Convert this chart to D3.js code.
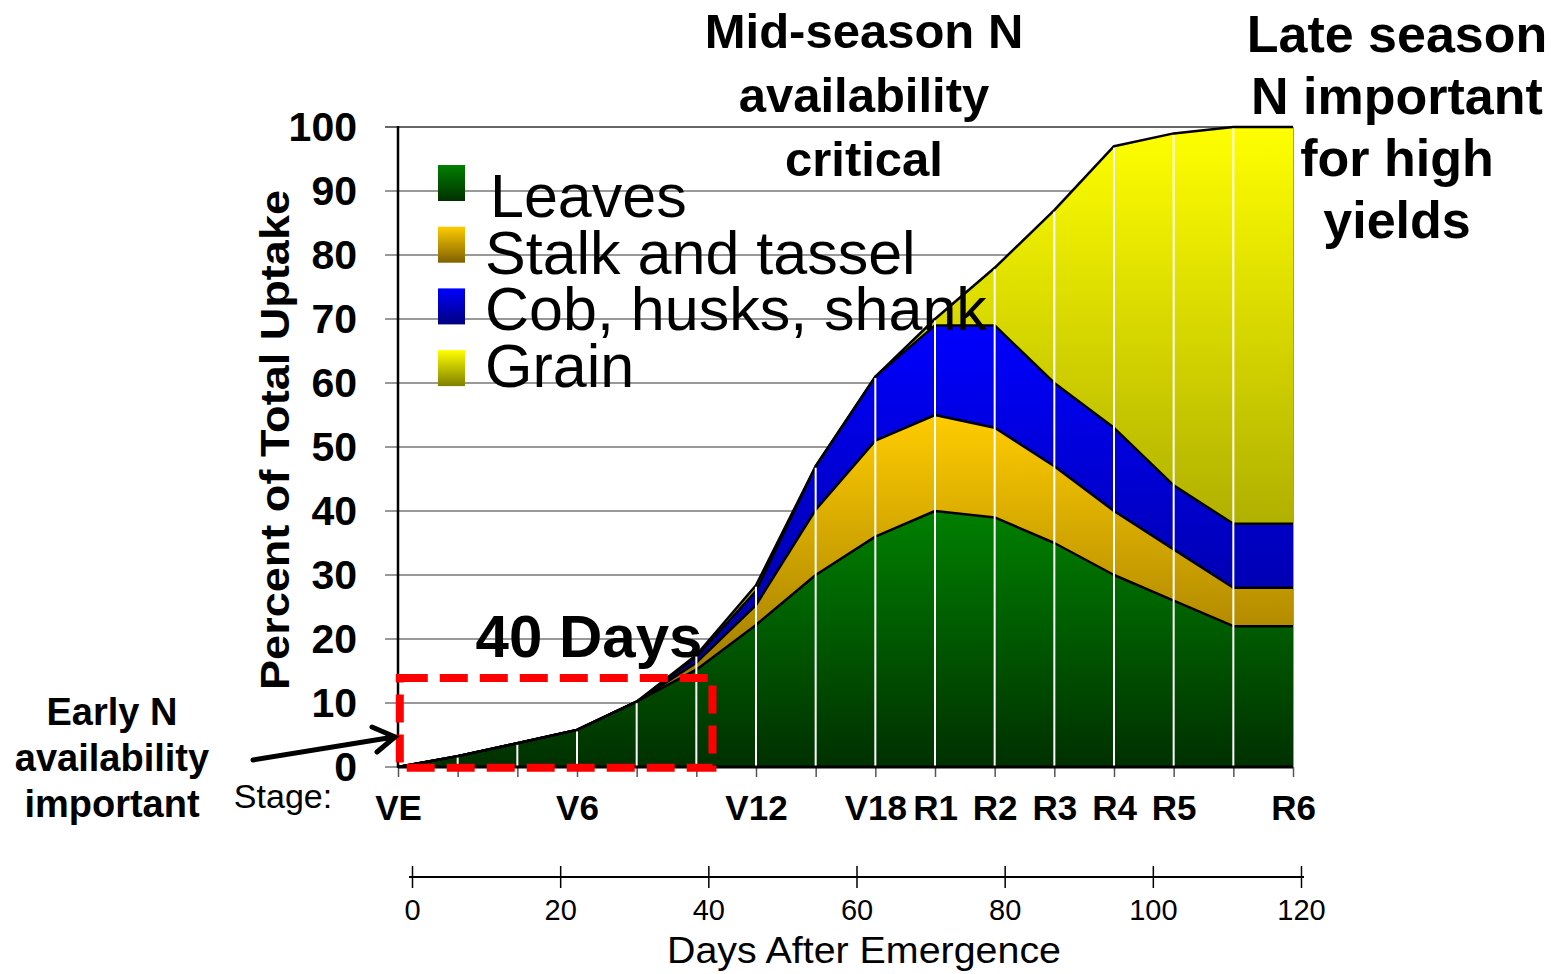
<!DOCTYPE html>
<html>
<head>
<meta charset="utf-8">
<script src="https://cdn.jsdelivr.net/npm/d3@7"></script>
<style>
  body { margin: 0; background: #fff; }
  text { font-family: Arial, "Liberation Sans", sans-serif; }
</style>
</head>
<body>
<script>
// stages along the x axis (16 evenly spaced sampling points)
let stageLabels = ['VE', '', '', 'V6', '', '', 'V12', '', 'V18', 'R1', 'R2', 'R3', 'R4', 'R5', '', 'R6']

// percent of total N uptake held in each plant part (not cumulative)
let leaves = [0, 1.7, 3.7, 5.8, 10.2, 15.2, 22.2, 30, 36, 40, 39, 35, 30, 26, 22, 22]
let stalk  = [0, 0, 0, 0, 0, 1.1, 3.1, 10.2, 15, 15, 14, 12, 10, 8, 6, 6]
let cob    = [0, 0, 0, 0, 0, 0.9, 2.2, 6.8, 10, 14, 16, 13, 13, 10, 10, 10]
let grain  = [0, 0, 0, 0, 0, 0.3, 0.9, 0, 0, 1, 9, 27, 44, 55, 62, 62]

let seriesNames = ['Leaves', 'Stalk and tassel', 'Cob, husks, shank', 'Grain']
let keys = ['leaves', 'stalk', 'cob', 'grain']
let yTicks = [0, 10, 20, 30, 40, 50, 60, 70, 80, 90, 100]
let dayTicks = [0, 20, 40, 60, 80, 100, 120]

// gradient colours top -> bottom
let gradTop = ['#008000', '#ffcc00', '#0000ff', '#ffff00']
let gradBot = ['#003000', '#806000', '#000080', '#808000']

let W = 1551, H = 974

let svg = d3.select('body').append('svg')
  .attr('width', W).attr('height', H)

let x = d3.scaleLinear().domain([0, stageLabels.length - 1]).range([398, 1293])
let y = d3.scaleLinear().domain([0, 100]).range([767, 127])
let days = d3.scaleLinear().domain([0, 120]).range([412, 1301])

let rows = stageLabels.map((s, i) => ({
  i, leaves: leaves[i], stalk: stalk[i], cob: cob[i], grain: grain[i]
}))
let stacked = d3.stack().keys(keys)(rows)

// gradients
let defs = svg.append('defs')
keys.forEach((k, j) => {
  let g = defs.append('linearGradient').attr('id', 'g-' + k)
    .attr('x1', 0).attr('y1', 0).attr('x2', 0).attr('y2', 1)
  g.append('stop').attr('offset', 0).attr('stop-color', gradTop[j])
  g.append('stop').attr('offset', 1).attr('stop-color', gradBot[j])
})

// gridlines
svg.append('g').selectAll('line').data(yTicks).enter().append('line')
  .attr('x1', 385).attr('x2', x(15))
  .attr('y1', d => y(d)).attr('y2', d => y(d))
  .attr('stroke', d => d === 100 ? '#333' : '#777')
  .attr('stroke-width', 1.5)

// right border
svg.append('line')
  .attr('x1', x(15)).attr('x2', x(15)).attr('y1', y(0)).attr('y2', y(100))
  .attr('stroke', '#999').attr('stroke-width', 2)

// areas
let area = d3.area()
  .x(d => x(d.data.i))
  .y0(d => y(d[0]))
  .y1(d => y(d[1]))

svg.append('g').selectAll('path').data(stacked).enter().append('path')
  .attr('d', area)
  .attr('fill', d => `url(#g-${d.key})`)

let topLine = d3.line().x(d => x(d.data.i)).y(d => y(d[1]))
svg.append('g').selectAll('path').data(stacked).enter().append('path')
  .attr('d', topLine)
  .attr('fill', 'none')
  .attr('stroke', '#000')
  .attr('stroke-width', 2.5)
  .attr('stroke-linejoin', 'round')

// white drop lines at each stage
let totals = rows.map(r => r.leaves + r.stalk + r.cob + r.grain)
svg.append('g').selectAll('line').data(d3.range(1, stageLabels.length - 1)).enter().append('line')
  .attr('x1', d => x(d)).attr('x2', d => x(d))
  .attr('y1', y(0)).attr('y2', d => y(totals[d]) + 1.5)
  .attr('stroke', '#fff').attr('stroke-width', 2)

// y axis
let yAxis = svg.append('g').attr('transform', `translate(${x(0)},0)`)
  .call(d3.axisLeft(y).tickValues(yTicks).tickSize(0).tickPadding(41))
yAxis.select('.domain').remove()
yAxis.selectAll('text').attr('font-size', 41).attr('font-weight', 'bold')
  .attr('fill', '#000').style('font-family', 'Arial, "Liberation Sans", sans-serif')
svg.append('line').attr('x1', x(0)).attr('x2', x(0)).attr('y1', y(100) - 1).attr('y2', y(0) + 1)
  .attr('stroke', '#000').attr('stroke-width', 2.5)

svg.append('text')
  .attr('transform', `translate(289,440) rotate(-90)`)
  .attr('text-anchor', 'middle')
  .attr('font-size', 40).attr('font-weight', 'bold')
  .attr('textLength', 500).attr('lengthAdjust', 'spacingAndGlyphs')
  .text('Percent of Total Uptake')

// stage axis
let xAxis = svg.append('g').attr('transform', `translate(0,${y(0)})`)
  .call(d3.axisBottom(x).tickValues(d3.range(stageLabels.length))
    .tickSize(10).tickPadding(18).tickFormat(i => stageLabels[i]))
xAxis.select('.domain').remove()
xAxis.selectAll('line').attr('stroke', '#555').attr('stroke-width', 1.5)
xAxis.selectAll('text').attr('font-size', 35).attr('font-weight', 'bold')
  .attr('fill', '#000').style('font-family', 'Arial, "Liberation Sans", sans-serif')
svg.append('line').attr('x1', x(0)).attr('x2', x(15)).attr('y1', y(0)).attr('y2', y(0))
  .attr('stroke', '#000').attr('stroke-width', 3)

svg.append('text').attr('x', 283).attr('y', 808).attr('text-anchor', 'middle')
  .attr('font-size', 34).text('Stage:')

// days axis
let dAxis = svg.append('g').attr('transform', 'translate(0,877)')
  .call(d3.axisBottom(days).tickValues(dayTicks).tickSize(11).tickPadding(11))
dAxis.select('.domain').attr('d', `M${days(0) - 3},0H${days(120) + 3}`)
  .attr('stroke', '#000').attr('stroke-width', 2)
dAxis.selectAll('.tick line').attr('y1', -11).attr('stroke', '#000').attr('stroke-width', 1.5)
dAxis.selectAll('text').attr('font-size', 29).attr('fill', '#000')
  .style('font-family', 'Arial, "Liberation Sans", sans-serif')

svg.append('text').attr('x', 864).attr('y', 963).attr('text-anchor', 'middle')
  .attr('font-size', 36).attr('textLength', 394).attr('lengthAdjust', 'spacingAndGlyphs')
  .text('Days After Emergence')

// legend
let legend = svg.append('g')
legend.selectAll('rect').data(keys).enter().append('rect')
  .attr('x', 438).attr('y', (d, j) => 165 + j * 61.7)
  .attr('width', 27).attr('height', 36)
  .attr('fill', d => `url(#g-${d})`)
legend.selectAll('text').data(seriesNames).enter().append('text')
  .attr('x', (d, j) => j === 0 ? 490 : 485)
  .attr('y', (d, j) => 217 + j * 56.5)
  .attr('font-size', 61)
  .text(d => d)

// early-season box
let box = { i0: 0.03, i1: 5.27, p0: -0.1, p1: 13.9 }
svg.append('rect')
  .attr('x', x(box.i0)).attr('y', y(box.p1))
  .attr('width', x(box.i1) - x(box.i0)).attr('height', y(box.p0) - y(box.p1))
  .attr('fill', 'none').attr('stroke', '#ff0000').attr('stroke-width', 8)
  .attr('stroke-dasharray', '28 12')

svg.append('text').attr('x', 589).attr('y', 657).attr('text-anchor', 'middle')
  .attr('font-size', 60).attr('font-weight', 'bold').text('40 Days')

// arrow
svg.append('path')
  .attr('d', 'M253,760L394,737M372,727L395,737L377,752')
  .attr('fill', 'none').attr('stroke', '#000').attr('stroke-width', 5)
  .attr('stroke-linecap', 'round')

// annotations
let notes = [
  { lines: ['Early N', 'availability', 'important'], x: 112, y: 725, dy: 46, size: 38 },
  { lines: ['Mid-season N', 'availability', 'critical'], x: 864, y: 48, dy: 64, size: 49 },
  { lines: ['Late season', 'N important', 'for high', 'yields'], x: 1397, y: 52, dy: 62, size: 52 }
]
notes.forEach(n => {
  svg.append('g').selectAll('text').data(n.lines).enter().append('text')
    .attr('x', n.x).attr('y', (d, j) => n.y + j * n.dy)
    .attr('text-anchor', 'middle')
    .attr('font-size', n.size).attr('font-weight', 'bold')
    .text(d => d)
})
</script>
</body>
</html>
